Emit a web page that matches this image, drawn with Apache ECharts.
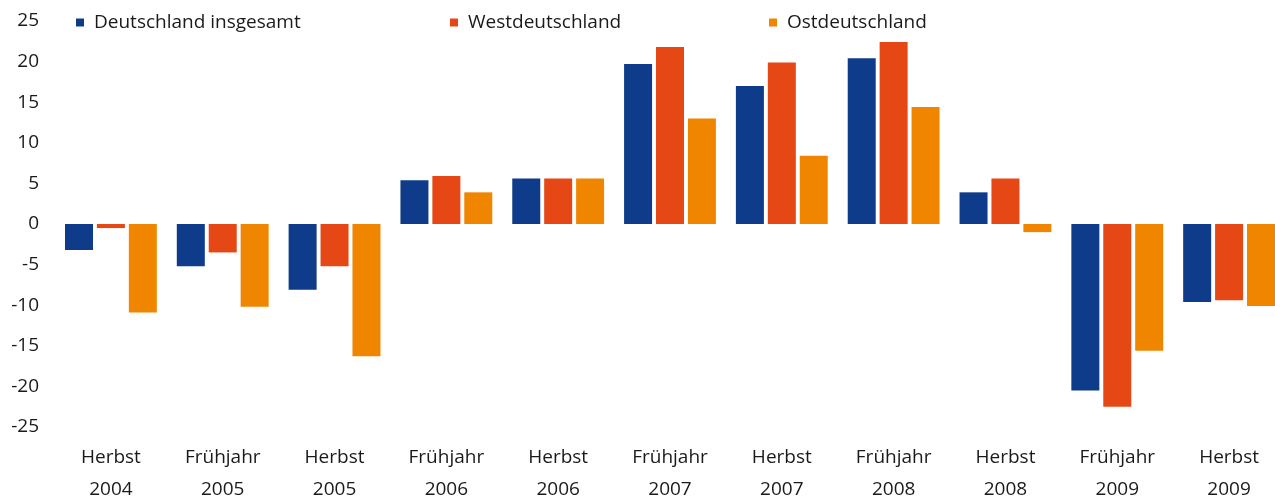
<!DOCTYPE html>
<html>
<head>
<meta charset="utf-8">
<script src="https://cdn.jsdelivr.net/npm/echarts@6/dist/echarts.min.js"></script>
<style>
  html, body { margin: 0; padding: 0; background: #fff; }
  #chart { width: 1275px; height: 497px; }
</style>
</head>
<body>
<div id="chart"></div>
<script>
// categories and values
var categories = ['Herbst\n2004', 'Frühjahr\n2005', 'Herbst\n2005', 'Frühjahr\n2006', 'Herbst\n2006',
    'Frühjahr\n2007', 'Herbst\n2007', 'Frühjahr\n2008', 'Herbst\n2008', 'Frühjahr\n2009', 'Herbst\n2009'];
var deutschland = [-3.2, -5.2, -8.1, 5.4, 5.6, 19.7, 17.0, 20.4, 3.9, -20.5, -9.6];
var west = [-0.5, -3.5, -5.2, 5.9, 5.6, 21.8, 19.9, 22.4, 5.6, -22.5, -9.4];
var ost = [-10.9, -10.2, -16.3, 3.9, 5.6, 13.0, 8.4, 14.4, -1.0, -15.6, -10.1];
var yTicks = [-25, -20, -15, -10, -5, 0, 5, 10, 15, 20, 25];

var font = '"Open Sans", sans-serif';
var textColor = '#1a1a1a';

var chart = echarts.init(document.getElementById('chart'));

var legendBase = {
    top: 13,
    padding: 0,
    icon: 'rect',
    itemWidth: 8,
    itemHeight: 8,
    textStyle: { fontFamily: font, fontSize: 19, color: textColor, padding: [0, 0, 0, 5] }
};

var option = {
    animation: false,
    backgroundColor: '#fff',
    color: ['#0e3c8a', '#e54814', '#f08600'],
    legend: [
        Object.assign({ left: 76, data: ['Deutschland insgesamt'] }, legendBase),
        Object.assign({ left: 450, data: ['Westdeutschland'] }, legendBase),
        Object.assign({ left: 769, data: ['Ostdeutschland'] }, legendBase)
    ],
    grid: { left: 55, right: -10, top: 21, bottom: 70, containLabel: false, outerBoundsMode: 'none' },
    xAxis: {
        type: 'category',
        data: categories,
        axisLine: { show: false },
        axisTick: { show: false },
        axisLabel: {
            interval: 0,
            margin: 15,
            fontFamily: font,
            fontSize: 19,
            lineHeight: 32,
            color: textColor
        }
    },
    yAxis: {
        type: 'value',
        min: yTicks[0],
        max: yTicks[yTicks.length - 1],
        interval: 5,
        splitLine: { show: false },
        axisLine: { show: false },
        axisTick: { show: false },
        axisLabel: { margin: 16, fontFamily: font, fontSize: 19, color: textColor }
    },
    series: [
        { name: 'Deutschland insgesamt', type: 'bar', data: deutschland, barWidth: 28, barGap: '14%' },
        { name: 'Westdeutschland', type: 'bar', data: west, barWidth: 28, barGap: '14%' },
        { name: 'Ostdeutschland', type: 'bar', data: ost, barWidth: 28, barGap: '14%' }
    ]
};

chart.setOption(option);
</script>
</body>
</html>
